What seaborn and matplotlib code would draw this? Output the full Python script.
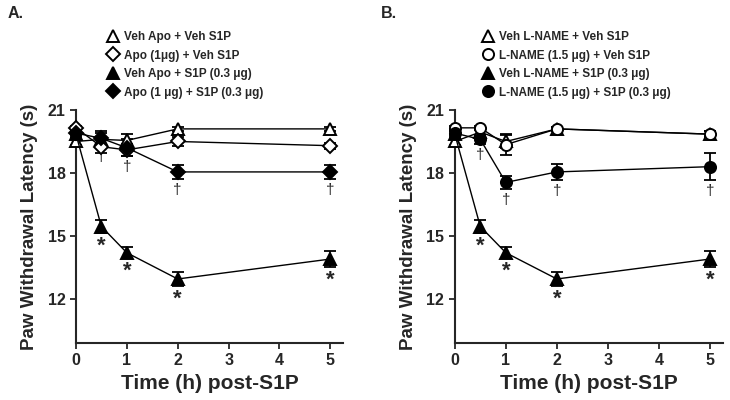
import numpy as np
import pandas as pd
import seaborn as sns
import matplotlib.pyplot as plt

# time points (h post-S1P)
time_h = [0, 0.5, 1, 2, 5]

# Panel A: Apo
labels_a = ["Veh Apo + Veh S1P", "Apo (1\u03bcg) + Veh S1P",
            "Veh Apo + S1P (0.3 \u03bcg)", "Apo (1 \u03bcg) + S1P (0.3 \u03bcg)"]
veh_veh_a = [19.5, 19.6, 19.55, 20.1, 20.1]
veh_veh_a_err = [0.15, 0.3, 0.3, 0.1, 0.1]
apo_veh_a = [20.15, 19.25, 19.1, 19.5, 19.3]
apo_veh_a_err = [0.1, 0.3, 0.3, 0.2, 0.15]
veh_s1p_a = [19.85, 15.45, 14.2, 12.95, 13.9]
veh_s1p_a_err = [0.15, 0.3, 0.25, 0.35, 0.4]
apo_s1p_a = [19.9, 19.65, 19.2, 18.05, 18.05]
apo_s1p_a_err = [0.1, 0.35, 0.4, 0.35, 0.35]

# Panel B: L-NAME
labels_b = ["Veh L-NAME + Veh S1P", "L-NAME (1.5 \u03bcg) + Veh S1P",
            "Veh L-NAME + S1P (0.3 \u03bcg)", "L-NAME (1.5 \u03bcg) + S1P (0.3 \u03bcg)"]
veh_veh_b = [19.5, 19.95, 19.5, 20.1, 19.85]
veh_veh_b_err = [0.15, 0.15, 0.3, 0.1, 0.15]
ln_veh_b = [20.15, 20.15, 19.35, 20.1, 19.85]
ln_veh_b_err = [0.1, 0.1, 0.5, 0.1, 0.15]
veh_s1p_b = [19.85, 15.45, 14.2, 12.95, 13.9]
veh_s1p_b_err = [0.15, 0.3, 0.25, 0.35, 0.4]
ln_s1p_b = [19.9, 19.6, 17.55, 18.05, 18.3]
ln_s1p_b_err = [0.1, 0.2, 0.3, 0.4, 0.65]

# points marked as significant (index into time_h)
dagger_idx = [1, 2, 3, 4]
star_idx = [1, 2, 3, 4]

sns.set_style("ticks")
plt.rcParams['font.family'] = ['Liberation Sans', 'DejaVu Sans']
plt.rcParams['font.weight'] = 'bold'

fig = plt.figure(figsize=(7.3, 4), dpi=100)
ax_a = fig.add_axes([0.104, 0.1425, 0.366, 0.5825])
ax_b = fig.add_axes([0.623, 0.1425, 0.367, 0.5825])


def draw_panel(ax, series, labels, marks, leg_x):
    for (y, err), lab, (mk, filled) in zip(series, labels, marks):
        df = pd.DataFrame({"t": time_h, "v": y})
        ax.errorbar(time_h, y, yerr=err, fmt='none', ecolor='black',
                    elinewidth=1.3, capsize=4.5, capthick=1.3, clip_on=False,
                    zorder=3)
        sns.lineplot(data=df, x="t", y="v", ax=ax, color='black', lw=1,
                     marker=mk, markersize=8 if mk != 'D' else 7.5,
                     markerfacecolor='black' if filled else 'white',
                     markeredgecolor='black', markeredgewidth=1.4,
                     label=lab, clip_on=False, zorder=4)
    # daggers under last series, asterisks under third series
    y4, e4 = series[3]
    for i in dagger_idx:
        ax.annotate("\u2020", (time_h[i], y4[i] - e4[i]), xytext=(0, -3),
                    textcoords='offset points', ha='center', va='top',
                    fontsize=11, fontweight='normal')
    y3, e3 = series[2]
    for i in star_idx:
        ax.annotate("*", (time_h[i], y3[i] - e3[i]), xytext=(0, -2),
                    textcoords='offset points', ha='center', va='top',
                    fontsize=16, fontweight='bold')
    ax.set_xlim(0, 5.25)
    ax.set_ylim(9.9, 21)
    ax.set_xticks([0, 1, 2, 3, 4, 5])
    ax.set_yticks([12, 15, 18, 21])
    ax.tick_params(labelsize=11.5, width=1.3, length=4)
    for lbl in ax.get_xticklabels() + ax.get_yticklabels():
        lbl.set_fontweight('bold')
    for s in ['left', 'bottom']:
        ax.spines[s].set_linewidth(1.5)
    sns.despine(ax=ax)
    ax.set_xlabel("Time (h) post-S1P", fontsize=15, fontweight='bold',
                  labelpad=4)
    ax.set_ylabel("Paw Withdrawal Latency (s)", fontsize=13.5,
                  fontweight='bold', labelpad=7)
    ax.legend(loc='upper left', bbox_to_anchor=(leg_x, 0.937),
              bbox_transform=fig.transFigure, frameon=False, fontsize=8.5,
              handlelength=1.0, handletextpad=0.45, labelspacing=0.55,
              borderpad=0)
    for h in ax.get_legend().legend_handles:
        h.set_linestyle('none')


marks_a = [('^', False), ('D', False), ('^', True), ('D', True)]
marks_b = [('^', False), ('o', False), ('^', True), ('o', True)]

draw_panel(ax_a, [(veh_veh_a, veh_veh_a_err), (apo_veh_a, apo_veh_a_err),
                  (veh_s1p_a, veh_s1p_a_err), (apo_s1p_a, apo_s1p_a_err)],
           labels_a, marks_a, 0.138)
draw_panel(ax_b, [(veh_veh_b, veh_veh_b_err), (ln_veh_b, ln_veh_b_err),
                  (veh_s1p_b, veh_s1p_b_err), (ln_s1p_b, ln_s1p_b_err)],
           labels_b, marks_b, 0.652)

fig.text(0.01, 0.965, "A.", fontsize=11.5, fontweight='bold', va='center')
fig.text(0.522, 0.965, "B.", fontsize=11.5, fontweight='bold', va='center')

fig.savefig("out.png", dpi=100)
